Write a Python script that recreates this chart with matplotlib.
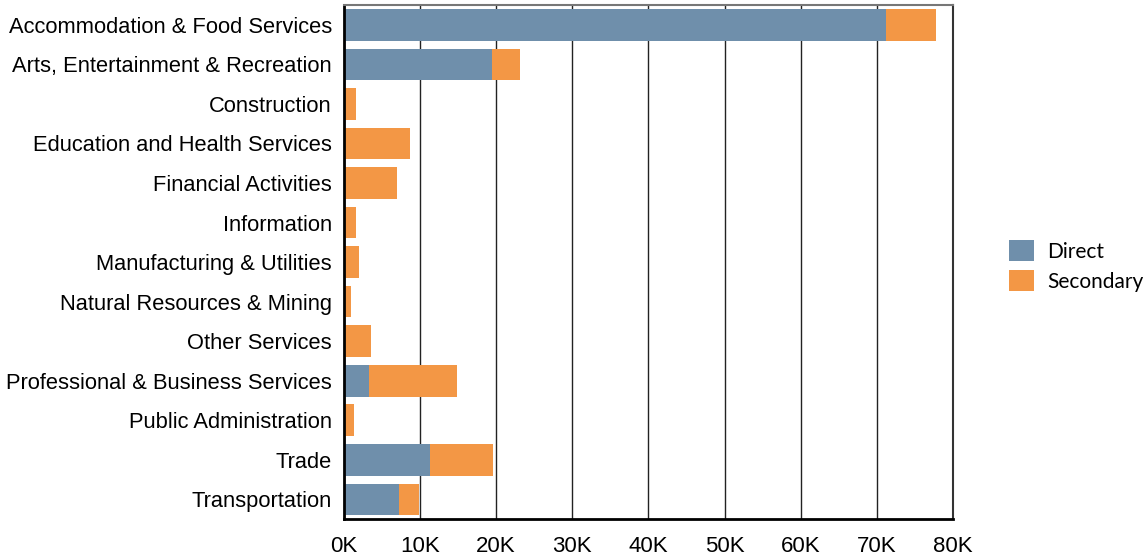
import matplotlib.pyplot as plt
import numpy as np

categories = [
    "Accommodation & Food Services",
    "Arts, Entertainment & Recreation",
    "Construction",
    "Education and Health Services",
    "Financial Activities",
    "Information",
    "Manufacturing & Utilities",
    "Natural Resources & Mining",
    "Other Services",
    "Professional & Business Services",
    "Public Administration",
    "Trade",
    "Transportation",
]
# values in thousands of jobs
direct = [71.2, 19.45, 0, 0, 0, 0, 0, 0, 0, 3.3, 0, 11.3, 7.25]
secondary = [6.6, 3.65, 1.6, 8.7, 7.0, 1.6, 2.0, 0.95, 3.55, 11.55, 1.3, 8.3, 2.6]
xticks = [0, 10, 20, 30, 40, 50, 60, 70, 80]

blue = "#6f8fab"
orange = "#f39745"

fig = plt.figure(figsize=(11.46, 5.57), dpi=100)
ax = fig.add_axes([0.300, 0.068, 0.5316, 0.923])

y = np.arange(len(categories))
ax.barh(y, direct, height=0.8, color=blue, label="Direct", zorder=2)
ax.barh(y, secondary, left=direct, height=0.8, color=orange, label="Secondary", zorder=2)

ax.set_ylim(len(categories) - 0.5, -0.5)
ax.set_xlim(0, 80)
ax.set_yticks(y)
ax.set_yticklabels(categories, family="Liberation Sans", fontsize=15.75)
ax.set_xticks(xticks)
ax.set_xticklabels([f"{t}K" for t in xticks], family="Liberation Sans", fontsize=16)
ax.tick_params(axis="y", length=0, pad=8.5)
ax.tick_params(axis="x", length=0, pad=12)

ax.grid(axis="x", color="#222222", linewidth=1, zorder=0)
ax.spines["left"].set_linewidth(2)
ax.spines["bottom"].set_linewidth(2)
ax.spines["left"].set_color("black")
ax.spines["bottom"].set_color("black")
ax.spines["top"].set_color("#777777")
ax.spines["right"].set_color("#333333")
ax.spines["top"].set_linewidth(1.5)
ax.spines["right"].set_linewidth(1.5)

leg = fig.legend(
    loc="upper left",
    bbox_to_anchor=(0.864, 0.603),
    frameon=False,
    prop={"family": "Lato", "size": 15},
    handlelength=1.2,
    handleheight=1.2,
    handletextpad=0.65,
    labelspacing=0.4,
)

fig.savefig("out.png", dpi=100)
